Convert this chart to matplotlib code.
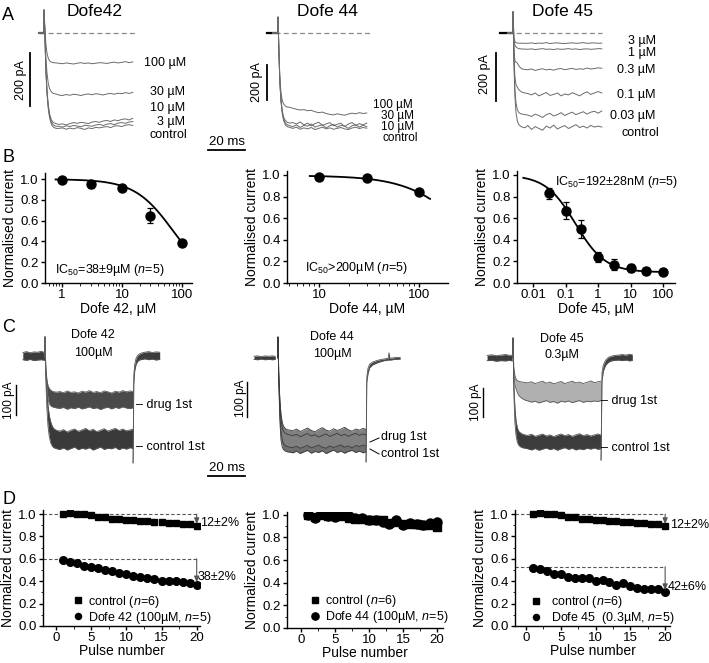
import numpy as np
import matplotlib
matplotlib.use("Agg")
import matplotlib.pyplot as plt
from matplotlib.ticker import FixedLocator, FuncFormatter, MultipleLocator, LogLocator, NullFormatter

plt.rcParams.update({
    "font.family": ["Liberation Sans", "DejaVu Sans"],
    "mathtext.fontset": "custom",
    "mathtext.rm": "Liberation Sans",
    "mathtext.it": "Liberation Sans:italic",
    "axes.linewidth": 1.0,
    "xtick.direction": "out", "ytick.direction": "out",
    "xtick.major.size": 2.8, "ytick.major.size": 2.8,
    "xtick.minor.size": 1.8, "ytick.minor.size": 1.8,
    "xtick.major.width": 1.0, "ytick.major.width": 1.0,
    "xtick.major.pad": 1.5, "ytick.major.pad": 1.8,
    "xtick.labelsize": 9.5, "ytick.labelsize": 9.5,
})

# ---------------------------------------------------------------- DATA
# Panel A: concentration-response current traces (pA, ms)
A_time = [-3, -0.1, 0, 0.5, 1, 1.6, 2.3, 3, 4, 5, 6.5,
          8, 10, 12, 14, 16, 18, 20, 22, 24, 26, 28, 30, 32, 34, 36, 38, 40, 42, 44, 46, 48]
A42_labels = ["100 µM", "30 µM", "10 µM", "3 µM", "control"]
A42_traces = [
    [0, 0, 87, 20, -40, -75, -95, -105, -110, -112, -113,
     -114, -116, -113, -115, -117, -114, -112, -115, -113, -116, -114, -112, -113, -115, -112, -110, -113, -111, -108, -112, -109],
    [0, 0, 87, 0, -90, -150, -190, -210, -222, -228, -230,
     -234, -236, -232, -235, -231, -233, -236, -232, -230, -233, -229, -231, -234, -230, -228, -231, -227, -229, -225, -228, -224],
    [0, 0, 87, -10, -130, -215, -270, -305, -328, -338, -342,
     -345, -343, -347, -342, -338, -341, -337, -339, -342, -336, -334, -337, -332, -330, -334, -328, -331, -326, -324, -328, -322],
    [0, 0, 87, -10, -135, -220, -278, -312, -336, -347, -352,
     -352, -355, -350, -353, -349, -351, -354, -348, -350, -352, -347, -345, -349, -344, -342, -346, -340, -338, -341, -336, -334],
    [0, 0, 87, -12, -140, -228, -285, -320, -345, -355, -360,
     -360, -358, -363, -359, -362, -357, -360, -364, -358, -361, -356, -358, -355, -353, -357, -351, -350, -353, -348, -346, -349],
]
A44_labels = ["100 µM", "30 µM", "10 µM", "control"]
A44_traces = [
    [0, 0, 91, -100, -250, -340, -385, -405, -418, -423, -425,
     -430, -436, -440, -438, -444, -442, -450, -455, -452, -460, -465, -468, -462, -466, -470, -463, -458, -462, -455, -460, -457],
    [0, 0, 91, -110, -275, -380, -445, -480, -500, -510, -515,
     -512, -520, -508, -525, -515, -530, -518, -510, -528, -520, -512, -530, -522, -515, -535, -520, -512, -528, -518, -525, -515],
    [0, 0, 91, -110, -278, -385, -452, -490, -515, -525, -530,
     -535, -525, -540, -528, -532, -520, -538, -530, -525, -542, -530, -522, -538, -528, -532, -545, -530, -525, -538, -528, -535],
    [0, 0, 91, -110, -280, -390, -460, -500, -525, -535, -540,
     -545, -538, -550, -542, -548, -540, -552, -545, -538, -548, -542, -550, -545, -540, -548, -552, -543, -538, -546, -540, -544],
]
A45_labels = ["3 µM", "1 µM", "0.3 µM", "0.1 µM", "0.03 µM", "control"]
A45_traces = [
    [0, 0, 88, -20, -35, -40, -42, -42, -43, -42, -43,
     -43, -41, -44, -42, -43, -40, -44, -42, -41, -43, -44, -42, -41, -43, -42, -40, -43, -42, -41, -43, -42],
    [0, 0, 88, -25, -50, -58, -62, -65, -66, -67, -67,
     -68, -66, -69, -67, -65, -68, -67, -69, -66, -68, -67, -65, -68, -66, -69, -67, -66, -68, -67, -65, -66],
    [0, 0, 88, -60, -115, -122, -125, -135, -145, -150, -152,
     -153, -150, -156, -152, -149, -154, -151, -155, -150, -148, -153, -150, -147, -152, -149, -151, -146, -150, -148, -145, -147],
    [0, 0, 88, -90, -180, -215, -225, -235, -242, -247, -250,
     -252, -258, -250, -262, -255, -248, -260, -256, -250, -262, -254, -258, -249, -255, -262, -252, -245, -256, -250, -244, -250],
    [0, 0, 88, -110, -230, -290, -318, -330, -336, -338, -340,
     -342, -348, -338, -344, -352, -340, -335, -346, -340, -332, -344, -336, -330, -340, -334, -328, -338, -330, -326, -334, -325],
    [0, 0, 88, -120, -260, -330, -365, -380, -388, -392, -395,
     -385, -402, -390, -398, -405, -388, -396, -384, -400, -392, -386, -398, -390, -382, -394, -388, -396, -385, -392, -388, -392],
]

# Panel B: concentration-response (normalised current)
B42_conc = [1, 3, 10, 30, 100]
B42_mean = [0.99, 0.95, 0.92, 0.65, 0.39]
B42_err = [0.01, 0.03, 0.01, 0.07, 0.01]
B42_fit = dict(top=1.0, bottom=0.0, ic50=72.0, hill=1.35)
B44_conc = [10, 30, 100]
B44_mean = [0.98, 0.97, 0.84]
B44_err = [0.01, 0.01, 0.01]
B44_fit = dict(top=0.995, bottom=0.0, ic50=303.0, hill=1.5)
B45_conc = [0.03, 0.1, 0.3, 1, 3, 10, 30, 100]
B45_mean = [0.83, 0.67, 0.50, 0.24, 0.17, 0.14, 0.11, 0.10]
B45_err = [0.05, 0.08, 0.08, 0.05, 0.05, 0.04, 0.03, 0.01]
B45_fit = dict(top=1.0, bottom=0.10, ic50=0.2, hill=0.95)

# Panel C: repetitive pulses, envelope of first/last sweeps (pA, ms)
C_on_time = [-0.05, 0, 0.4, 1, 1.6, 2.3, 3, 4, 5, 6.5,
             8, 10, 12, 14, 16, 18, 20, 22, 24, 26, 28, 30, 32, 34, 36, 38, 40, 42, 44, 46, 47.5]
C42 = dict(
    pre_t=[-12, -10, -8, -6, -4, -2, -0.2],
    pre_hi=[15, 18, 14, 17, 16, 19, 15], pre_lo=[-9, -11, -8, -12, -10, -9, -11],
    drug_hi=[0, 67, -30, -75, -95, -105, -110, -114, -116, -117,
             -115, -119, -113, -118, -116, -120, -114, -117, -112, -118, -115, -119, -113, -116, -120, -114, -117, -112, -116, -113, -115],
    drug_lo=[0, 67, -50, -110, -140, -155, -162, -166, -168, -170,
             -171, -168, -174, -169, -172, -167, -173, -170, -166, -172, -169, -175, -170, -167, -173, -168, -171, -166, -170, -172, -169],
    ctrl_hi=[0, 67, -40, -110, -160, -195, -215, -232, -240, -245,
             -247, -242, -250, -244, -240, -248, -243, -238, -246, -241, -249, -244, -239, -247, -242, -238, -245, -240, -246, -243, -241],
    ctrl_lo=[0, 67, -70, -170, -230, -265, -285, -298, -303, -306,
             -308, -303, -310, -305, -300, -309, -304, -307, -302, -310, -305, -300, -308, -304, -306, -301, -309, -303, -307, -302, -305],
    off_t=[47.6, 48.0, 48.5, 49.2, 50, 51, 52.5, 54, 56, 58, 60, 62],
    off_hi=[-353, -60, -25, -5, 5, 10, 14, 16, 18, 15, 17, 16],
    off_lo=[-353, -90, -45, -25, -15, -10, -8, -6, -9, -7, -10, -8],
)
C44 = dict(
    pre_t=[-13, -11, -9, -7, -5, -3, -1.5],
    pre_hi=[5, 6, 4, 6, 5, 6, 5], pre_lo=[-4, -5, -3, -5, -4, -5, -4],
    drug_hi=[0, 60, -40, -120, -160, -185, -195, -202, -205, -206,
             -208, -203, -210, -205, -200, -207, -211, -204, -199, -206, -209, -202, -207, -203, -198, -205, -209, -203, -206, -201, -204],
    drug_lo=[0, 60, -60, -160, -210, -235, -245, -250, -253, -255,
             -256, -252, -258, -254, -250, -257, -253, -249, -255, -258, -251, -256, -252, -248, -255, -251, -257, -250, -253, -249, -252],
    ctrl_hi=[0, 60, -45, -130, -175, -200, -210, -215, -218, -220,
             -222, -218, -225, -220, -216, -223, -219, -226, -221, -217, -224, -220, -215, -222, -218, -224, -219, -215, -221, -217, -220],
    ctrl_lo=[0, 60, -70, -180, -235, -255, -262, -266, -268, -269,
             -271, -266, -273, -268, -264, -272, -267, -270, -265, -273, -268, -263, -270, -266, -272, -267, -264, -270, -266, -271, -268],
    off_t=[47.6, 48.0, 48.6, 49.5, 51, 53, 55, 57, 59.5, 60, 60.5, 63, 66],
    off_hi=[-297, -55, -30, -18, -12, -8, -5, -3, -1, 15, -1, 1, 2],
    off_lo=[-297, -70, -45, -28, -20, -15, -11, -8, -6, -5, -6, -4, -3],
)
C45 = dict(
    pre_t=[-14, -11.5, -9, -6.5, -4, -2, -0.5],
    pre_hi=[9, 11, 8, 10, 12, 9, 10], pre_lo=[-9, -8, -11, -9, -10, -8, -10],
    drug_hi=[0, 69, -30, -60, -72, -78, -80, -82, -83, -84,
             -86, -82, -88, -84, -80, -87, -83, -89, -85, -81, -88, -84, -80, -86, -83, -88, -84, -79, -85, -82, -80],
    drug_lo=[0, 69, -50, -90, -105, -118, -128, -135, -140, -145,
             -148, -152, -149, -155, -151, -147, -153, -150, -156, -149, -152, -148, -154, -150, -147, -153, -149, -151, -148, -150, -147],
    ctrl_hi=[0, 69, -80, -170, -215, -240, -252, -258, -262, -265,
             -267, -263, -270, -266, -262, -269, -265, -271, -266, -262, -268, -264, -270, -265, -261, -268, -264, -269, -265, -262, -266],
    ctrl_lo=[0, 69, -110, -220, -265, -290, -300, -306, -309, -311,
             -313, -317, -312, -318, -314, -310, -316, -312, -318, -313, -309, -315, -311, -317, -313, -316, -311, -314, -310, -315, -312],
    off_t=[47.6, 48.1, 48.8, 50, 51.5, 53, 55, 57, 59, 61, 63, 64.5],
    off_hi=[-352, -50, -25, -8, 2, 6, 9, 10, 12, 10, 13, 11],
    off_lo=[-352, -80, -45, -25, -15, -10, -8, -7, -9, -7, -10, -8],
)

# Panel D: use-dependence (normalized current vs pulse number)
D_pulse = list(range(1, 21))
D_control = [1.00, 1.01, 1.00, 1.00, 0.99, 0.97, 0.97, 0.96, 0.96, 0.95,
             0.95, 0.94, 0.94, 0.93, 0.93, 0.92, 0.92, 0.91, 0.91, 0.89]
D_dofe42 = [0.59, 0.57, 0.56, 0.54, 0.53, 0.52, 0.50, 0.49, 0.47, 0.46,
            0.45, 0.44, 0.43, 0.42, 0.40, 0.40, 0.40, 0.39, 0.38, 0.37]
D_control44 = [1.00, 0.98, 1.00, 0.99, 0.99, 0.99, 0.97, 0.96, 0.96, 0.95,
               0.95, 0.95, 0.93, 0.94, 0.92, 0.92, 0.92, 0.91, 0.91, 0.89]
D_dofe44 = [1.00, 0.97, 1.02, 0.99, 0.98, 1.01, 0.99, 0.97, 0.97, 0.95,
            0.95, 0.94, 0.92, 0.95, 0.91, 0.93, 0.92, 0.91, 0.93, 0.94]
D_dofe45 = [0.52, 0.51, 0.49, 0.46, 0.46, 0.44, 0.43, 0.43, 0.43, 0.40,
            0.41, 0.39, 0.37, 0.38, 0.36, 0.34, 0.33, 0.33, 0.33, 0.30]
D_ref42, D_ref45 = 0.60, 0.53

# ---------------------------------------------------------------- LAYOUT
W, H = 709, 663
fig = plt.figure(figsize=(W / 100, H / 100), dpi=100)


def px_ax(l, t, r, b):
    return fig.add_axes([l / W, 1 - b / H, (r - l) / W, (b - t) / H])


def ptext(x, y, s, **kw):
    kw.setdefault("va", "center")
    kw.setdefault("fontsize", 9)
    return fig.text(x / W, 1 - y / H, s, **kw)


PX_PER_MS = 1.85


def trace_ax(l, t, w, h, t0, y0, px_per_pa):
    ax = px_ax(l, t, l + w, t + h)
    ax.set_xlim((l - t0) / PX_PER_MS, (l + w - t0) / PX_PER_MS)
    ax.set_ylim((y0 - (t + h)) / px_per_pa, (y0 - t) / px_per_pa)
    ax.axis("off")
    return ax


TRACE_COL = "#6a6a6a"


def draw_A(ax, traces, hold_from, dash_to, bar_t, bar_top, bar_len):
    ax.plot([hold_from, dash_to], [0, 0], ls=(0, (4, 2.5)), color="#8a8a8a", lw=0.9)
    ax.plot([hold_from, 0], [0, 0], color="black", lw=1.6)
    for tr in traces:
        ax.plot(A_time, tr, color=TRACE_COL, lw=0.7)
    ax.plot([bar_t, bar_t], [bar_top, bar_top - bar_len], color="black", lw=1.3, clip_on=False)


# ---- Panel A
a1 = trace_ax(0, 0, 230, 150, 44, 33, 53 / 200)
draw_A(a1, A42_traces, -2.2, 50, -7.6, -75, 200)
a2 = trace_ax(230, 0, 240, 150, 278, 33, 35 / 200)
draw_A(a2, A44_traces, -6, 51, -6.0, -183, 200)
a3 = trace_ax(470, 0, 239, 150, 513, 33, 48 / 200)
draw_A(a3, A45_traces, -7, 48, -9.2, -83, 200)
# 20 ms bar (A)
a2.plot([-37.8, -37.8 + 20], [-669, -669], color="black", lw=1.3, clip_on=False)
ptext(227, 142, "20 ms", ha="center", fontsize=9.5)

ptext(2, 16, "A", fontsize=13)
ptext(95, 12, "Dofe42", ha="center", fontsize=12.5)
ptext(327, 11, "Dofe 44", ha="center", fontsize=12.5)
ptext(563, 11, "Dofe 45", ha="center", fontsize=12.5)
ptext(21, 80, "200 pA", rotation=90, ha="center", fontsize=9)
ptext(257, 82, "200 pA", rotation=90, ha="center", fontsize=9)
ptext(485, 74, "200 pA", rotation=90, ha="center", fontsize=9)
for (x, y), s in zip([(144, 63), (150, 92), (150, 108), (157, 122), (150, 135)], A42_labels):
    ptext(x, y, s)
for (x, y), s in zip([(373, 105), (381, 116), (381, 127), (382, 138)], A44_labels):
    ptext(x, y, s, fontsize=8.5)
for (x, y), s in zip([(628, 41), (628, 53), (617, 70), (617, 95), (610, 116), (622, 133)], A45_labels):
    ptext(x, y, s)

# ---- Panel B


def hill(x, top, bottom, ic50, hill):
    return bottom + (top - bottom) / (1 + (x / ic50) ** hill)


def fmt_g(v, pos):
    return "%g" % v


def style_B(ax, xlim, ylim, xticks, xlabel):
    ax.set_xscale("log")
    ax.set_xlim(*xlim)
    ax.set_ylim(*ylim)
    for s in ("top", "right"):
        ax.spines[s].set_visible(False)
    ax.xaxis.set_major_locator(FixedLocator(xticks))
    ax.xaxis.set_major_formatter(FuncFormatter(fmt_g))
    ax.xaxis.set_minor_locator(LogLocator(base=10, subs=np.arange(2, 10)))
    ax.xaxis.set_minor_formatter(NullFormatter())
    ax.yaxis.set_major_locator(FixedLocator([0, 0.2, 0.4, 0.6, 0.8, 1.0]))
    ax.yaxis.set_major_formatter(FuncFormatter(lambda v, p: "%.1f" % v))
    ax.set_xlabel(xlabel, fontsize=10, labelpad=1)
    ax.set_ylabel("Normalised current", fontsize=10, labelpad=2)


def draw_B(ax, conc, mean, err, fit, xr):
    xs = np.logspace(np.log10(xr[0]), np.log10(xr[1]), 200)
    ax.plot(xs, hill(xs, **fit), color="black", lw=1.3)
    ax.errorbar(conc, mean, yerr=err, fmt="o", color="black", ms=6.5, capsize=2.5, elinewidth=0.9, capthick=0.9)


b1 = px_ax(45, 173, 192, 283)
style_B(b1, (0.52, 148), (0, 1.06), [1, 10, 100], "Dofe 42, µM")
draw_B(b1, B42_conc, B42_mean, B42_err, B42_fit, (0.78, 105))
b1.text(0.07, 0.12, "IC$_{50}$=38±9µM ($n$=5)", transform=b1.transAxes, fontsize=9, va="center")

b2 = px_ax(287, 171, 448, 283)
style_B(b2, (4.8, 195), (0, 1.037), [10, 100], "Dofe 44, µM")
draw_B(b2, B44_conc, B44_mean, B44_err, B44_fit, (8.1, 129))
b2.text(0.11, 0.13, "IC$_{50}$>200µM ($n$=5)", transform=b2.transAxes, fontsize=9, va="center")

b3 = px_ax(517, 171, 675, 283)
style_B(b3, (0.0032, 233), (0, 1.037), [0.01, 0.1, 1, 10, 100], "Dofe 45, µM")
draw_B(b3, B45_conc, B45_mean, B45_err, B45_fit, (0.005, 100))
b3.text(0.24, 0.90, "IC$_{50}$=192±28nM ($n$=5)", transform=b3.transAxes, fontsize=9, va="center")

ptext(2, 158, "B", fontsize=13)

# ---- Panel C
C_on_t = C_on_time


def draw_C(ax, d, drug_col, drug_edge, ctrl_col, ctrl_edge, bar_t, bar_top, bar_len):
    ax.fill_between(d["pre_t"], d["pre_lo"], d["pre_hi"], color="#3c3c3c", lw=0)
    ax.plot(d["pre_t"], d["pre_hi"], color="#555555", lw=0.6)
    ax.plot(d["pre_t"], d["pre_lo"], color="#555555", lw=0.6)
    ax.fill_between(C_on_t, d["ctrl_lo"], d["ctrl_hi"], color=ctrl_col, lw=0)
    ax.plot(C_on_t, d["ctrl_hi"], color=ctrl_edge, lw=0.6)
    ax.plot(C_on_t, d["ctrl_lo"], color=ctrl_edge, lw=0.6)
    ax.fill_between(C_on_t, d["drug_lo"], d["drug_hi"], color=drug_col, lw=0)
    ax.plot(C_on_t, d["drug_hi"], color=drug_edge, lw=0.6)
    ax.plot(C_on_t, d["drug_lo"], color=drug_edge, lw=0.6)
    ax.fill_between(d["off_t"], d["off_lo"], d["off_hi"], color="#3c3c3c", lw=0)
    ax.plot(d["off_t"], d["off_hi"], color="#555555", lw=0.6)
    ax.plot(d["off_t"], d["off_lo"], color="#555555", lw=0.6)
    ax.plot([bar_t, bar_t], [bar_top, bar_top - bar_len], color="black", lw=1.0, clip_on=False)


c1 = trace_ax(0, 325, 230, 150, 45, 357, 30 / 100)
draw_C(c1, C42, "#4a4a4a", "#5e5e5e", "#3a3a3a", "#555555", -15.7, -93, 100)
c2 = trace_ax(230, 325, 240, 150, 278, 358, 35 / 100)
draw_C(c2, C44, "#808080", "#3a3a3a", "#6e6e6e", "#3a3a3a", -16.8, -69, 100)
c3 = trace_ax(470, 325, 239, 150, 513, 358, 29 / 100)
draw_C(c3, C45, "#b0b0b0", "#555555", "#3c3c3c", "#555555", -16.2, -103, 100)
c2.plot([-37.8, -37.8 + 20], [-337, -337], color="black", lw=1.3, clip_on=False)
ptext(227, 468, "20 ms", ha="center", fontsize=9.5)

ptext(2, 327, "C", fontsize=13)
ptext(93, 335, "Dofe 42", ha="center", fontsize=9)
ptext(93, 353, "100µM", ha="center", fontsize=9)
ptext(332, 337, "Dofe 44", ha="center", fontsize=9)
ptext(332, 354, "100µM", ha="center", fontsize=9)
ptext(562, 339, "Dofe 45", ha="center", fontsize=9)
ptext(562, 355, "0.3µM", ha="center", fontsize=9)
ptext(9, 400, "100 pA", rotation=90, ha="center", fontsize=8.5)
ptext(241, 398, "100 pA", rotation=90, ha="center", fontsize=8.5)
ptext(476, 402, "100 pA", rotation=90, ha="center", fontsize=8.5)
ptext(136, 405, "– drug 1st")
ptext(136, 447, "– control 1st")
ptext(601, 401, "– drug 1st")
ptext(601, 448, "– control 1st")
ptext(381, 437, "drug 1st")
ptext(381, 454, "control 1st")
fig.add_artist(plt.Line2D([370 / W, 379 / W], [1 - 442 / H, 1 - 438 / H], color="black", lw=0.7))
fig.add_artist(plt.Line2D([370 / W, 379 / W], [1 - 449 / H, 1 - 454 / H], color="black", lw=0.7))

# ---- Panel D


def style_D(ax, xlim, ylim):
    ax.set_xlim(*xlim)
    ax.set_ylim(*ylim)
    for s in ("top", "right"):
        ax.spines[s].set_visible(False)
    ax.xaxis.set_major_locator(FixedLocator([0, 5, 10, 15, 20]))
    ax.xaxis.set_minor_locator(MultipleLocator(2.5))
    ax.yaxis.set_major_locator(FixedLocator([0, 0.2, 0.4, 0.6, 0.8, 1.0]))
    ax.yaxis.set_minor_locator(MultipleLocator(0.1))
    ax.yaxis.set_major_formatter(FuncFormatter(lambda v, p: "%.1f" % v))
    ax.set_xlabel("Pulse number", fontsize=10, labelpad=0)
    ax.set_ylabel("Normalized current", fontsize=10, labelpad=2)


def ref_arrow(ax, x0, ref, end_val):
    ax.plot([x0, D_pulse[-1]], [ref, ref], ls=(0, (3, 2)), color="#555555", lw=0.8)
    ax.annotate("", xy=(D_pulse[-1], end_val), xytext=(D_pulse[-1], ref),
                arrowprops=dict(arrowstyle="-|>,head_length=0.35,head_width=0.15", color="#555555", lw=0.8,
                                shrinkA=0, shrinkB=0))


LEG = dict(loc="lower left", frameon=False, fontsize=9, handlelength=0.8,
           labelspacing=0.0, borderpad=0.0, markerscale=0.8)

d1 = px_ax(43, 510, 200, 626)
style_D(d1, (-1.85, 20.47), (0, 1.036))
ref_arrow(d1, -1.85, D_control[0], D_control[-1] + 0.02)
ref_arrow(d1, -1.85, D_ref42, D_dofe42[-1] + 0.02)
d1.plot(D_pulse, D_control, "s", color="black", ms=5, label="control ($n$=6)")
d1.plot(D_pulse, D_dofe42, "o", color="black", ms=5.5, label="Dofe 42 (100µM, $n$=5)")
d1.legend(bbox_to_anchor=(0.15, -0.05), handletextpad=0.4, **LEG)
ptext(200, 523, "12±2%")
ptext(198, 577, "38±2%")

d2 = px_ax(287, 512, 443, 628)
style_D(d2, (-2.06, 20.9), (0, 1.024))
d2.plot(D_pulse, D_control44, "s", color="black", ms=6, label="control ($n$=6)")
d2.plot(D_pulse, D_dofe44, "o", color="black", ms=6.5, label="Dofe 44 (100µM, $n$=5)")
d2.legend(bbox_to_anchor=(0.11, -0.03), handletextpad=0.4, **LEG)

d3 = px_ax(515, 510, 670, 626)
style_D(d3, (-1.58, 20.7), (0, 1.036))
ref_arrow(d3, -1.58, D_control[0], D_control[-1] + 0.02)
ref_arrow(d3, -1.58, D_ref45, D_dofe45[-1] + 0.02)
d3.plot(D_pulse, D_control, "s", color="black", ms=5, label="control ($n$=6)")
d3.plot(D_pulse, D_dofe45, "o", color="black", ms=5.5, label="Dofe 45  (0.3µM, $n$=5)")
d3.legend(bbox_to_anchor=(0.06, -0.055), handletextpad=0.8, **LEG)
ptext(670, 525, "12±2%")
ptext(668, 587, "42±6%")

ptext(2, 500, "D", fontsize=13)

fig.savefig("out.png", dpi=100)
